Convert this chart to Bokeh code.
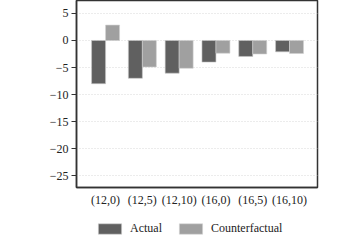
from bokeh.plotting import figure
from bokeh.layouts import column
from bokeh.models import ColumnDataSource, FixedTicker, Range1d, Legend, LegendItem
from bokeh.transform import dodge
from bokeh.embed import file_html
from bokeh.resources import INLINE

categories = ["(12,0)", "(12,5)", "(12,10)", "(16,0)", "(16,5)", "(16,10)"]
actual = [-8.0, -7.0, -6.05, -4.0, -2.95, -2.1]
counterfactual = [2.85, -4.9, -5.15, -2.35, -2.5, -2.4]
y_ticks = [-25, -20, -15, -10, -5, 0, 5]
series_names = ["Actual", "Counterfactual"]

xs = list(range(len(categories)))
src = ColumnDataSource(dict(x=xs, actual=actual, cf=counterfactual))

FONT = "Liberation Serif"
C_ACT, C_CF = "#606060", "#a0a0a0"

p = figure(frame_width=241, frame_height=187, output_backend="svg", toolbar_location=None,
           x_range=Range1d(-0.79, 5.76), y_range=Range1d(-27.2, 7.4),
           min_border_left=76, min_border_right=35, min_border_top=0, min_border_bottom=0)

p.vbar(x=dodge("x", -0.19), top="actual", bottom=0, width=0.38, source=src,
       fill_color=C_ACT, line_color="#c8c8c8", line_width=0.6)
p.vbar(x=dodge("x", 0.19), top="cf", bottom=0, width=0.38, source=src,
       fill_color=C_CF, line_color="#d0d0d0", line_width=0.6)

p.outline_line_color = "#333333"
p.outline_line_width = 1.5
p.xgrid.visible = False
p.ygrid.ticker = FixedTicker(ticks=y_ticks)
p.ygrid.grid_line_color = "#d8d8d8"
p.ygrid.grid_line_dash = "1 2"
p.ygrid.grid_line_width = 1

p.yaxis.ticker = FixedTicker(ticks=y_ticks)
p.yaxis.major_label_overrides = {t: (str(t).replace("-", "\u2212")) for t in y_ticks}
p.yaxis.major_tick_out = 5
p.yaxis.major_tick_in = 0
p.yaxis.minor_tick_out = 0
p.yaxis.minor_tick_in = 0
p.yaxis.axis_line_color = "#333333"
p.yaxis.axis_line_width = 1.5
p.yaxis.major_tick_line_color = "#333333"
p.yaxis.major_label_standoff = 3

p.xaxis.ticker = FixedTicker(ticks=xs)
p.xaxis.major_label_overrides = {i: c for i, c in enumerate(categories)}
p.xaxis.major_tick_out = 0
p.xaxis.major_tick_in = 0
p.xaxis.minor_tick_out = 0
p.xaxis.axis_line_color = "#333333"
p.xaxis.axis_line_width = 1.5
p.xaxis.major_label_standoff = 5

for ax in (p.xaxis, p.yaxis):
    ax.major_label_text_font = FONT
    ax.major_label_text_font_size = "12px"
    ax.major_label_text_color = "#222222"

# legend strip below the chart (swatch renderers sit outside its visible range)
lf = figure(frame_width=241, frame_height=33, output_backend="svg", toolbar_location=None,
            x_range=Range1d(0, 1), y_range=Range1d(0, 1),
            x_axis_location=None, y_axis_location=None,
            min_border_left=76, min_border_right=35, min_border_top=0, min_border_bottom=0)
lf.outline_line_color = None
lf.xgrid.visible = False
lf.ygrid.visible = False
la = lf.vbar(x=[-10], top=[-10], bottom=-11, width=0.1,
             fill_color=C_ACT, line_color="#c8c8c8", line_width=0.6)
lc = lf.vbar(x=[-10], top=[-10], bottom=-11, width=0.1,
             fill_color=C_CF, line_color="#d0d0d0", line_width=0.6)

legend = Legend(items=[LegendItem(label=series_names[0], renderers=[la]),
                       LegendItem(label=series_names[1], renderers=[lc])],
                orientation="horizontal", location=(19, 6),
                glyph_width=29, glyph_height=13, label_standoff=6, spacing=14,
                padding=2, margin=0, border_line_color=None, background_fill_alpha=0,
                label_text_font=FONT, label_text_font_size="12px", label_text_color="#222222",
                label_height=13)
lf.add_layout(legend, "center")

layout = column(p, lf, spacing=0)
open("out.html", "w").write(file_html(layout, INLINE))
